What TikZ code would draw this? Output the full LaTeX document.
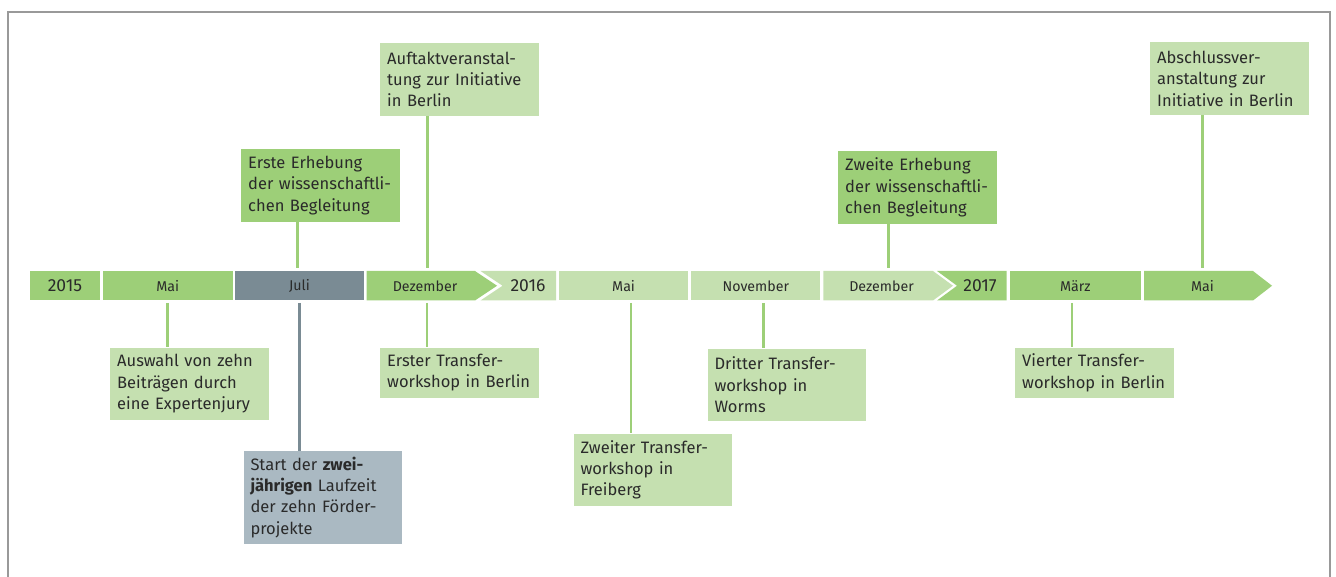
\documentclass[tikz,border=0pt]{standalone}
\usepackage{fontspec}
\setmainfont{Fira Sans}
\definecolor{dg}{HTML}{9DCF78}
\definecolor{lg}{HTML}{C5E0B0}
\definecolor{sl}{HTML}{7A8B94}
\definecolor{slb}{HTML}{AAB9C2}
\definecolor{tx}{HTML}{2A2A2A}
\definecolor{fr}{HTML}{999999}
\begin{document}
\begin{tikzpicture}[x=1pt,y=-1pt,
  frame/.style={draw=fr,line width=2pt},
  evbox/.style={anchor=north west,inner xsep=7pt,inner ysep=0pt,minimum width=158.5pt,text width=144.5pt,align=left,text=tx,font=\fontsize{16.5}{21.3}\selectfont},
  three/.style={minimum height=72.5pt},
  two/.style={minimum height=50.5pt},
  four/.style={minimum height=93pt},
  mon/.style={text=tx,font=\fontsize{14.2}{16}\selectfont,inner sep=0pt},
  yr/.style={text=tx,font=\fontsize{17.5}{19}\selectfont,inner sep=0pt},
  gcon/.style={draw=dg,line width=2.6pt},
  scon/.style={draw=sl,line width=2.6pt}]
\useasboundingbox (0,0) rectangle (1336,577);
\draw[frame] (8,580) -- (8,12) -- (1330,12) -- (1330,580);
% bar segments
\fill[dg] (30,271) rectangle (100,300.5);
\fill[dg] (103,271) rectangle (232.7,300.5);
\fill[sl] (235.3,271) rectangle (363.7,300.5);
\fill[dg] (366.7,271) -- (475,271) -- (497,285.75) -- (475,300.5) -- (366.7,300.5) -- cycle;
\fill[lg] (480.5,271) -- (556,271) -- (556,300.5) -- (480.5,300.5) -- (502.5,285.75) -- cycle;
\fill[lg] (559,271) rectangle (688.3,300.5);
\fill[lg] (691.3,271) rectangle (820.3,300.5);
\fill[lg] (823.3,271) -- (933,271) -- (953,285.75) -- (933,300.5) -- (823.3,300.5) -- cycle;
\fill[dg] (937,271) -- (1006.7,271) -- (1006.7,300.5) -- (937,300.5) -- (957,285.75) -- cycle;
\fill[dg] (1010,271) rectangle (1140.7,300.5);
\fill[dg] (1144,271) -- (1253,271) -- (1272,285.75) -- (1253,300.5) -- (1144,300.5) -- cycle;
% bar labels
\node[yr]  (y15) at (65,286) {2015};
\node[mon] (m1)  at (167.8,286) {Mai};
\node[mon] (m2)  at (299.5,286) {Juli};
\node[mon] (m3)  at (425,286) {Dezember};
\node[yr]  (y16) at (528,286) {2016};
\node[mon] (m4)  at (623.6,286) {Mai};
\node[mon] (m5)  at (755.8,286) {November};
\node[mon] (m6)  at (881.5,286) {Dezember};
\node[yr]  (y17) at (980,286) {2017};
\node[mon] (m7)  at (1075.3,286) {März};
\node[mon] (m8)  at (1202.5,286) {Mai};
% bar attachment coordinates
\coordinate (a1) at (297.7,268);
\coordinate (a2) at (427.7,268);
\coordinate (a3) at (888.7,268);
\coordinate (a4) at (1202.3,268);
\coordinate (b1) at (167.3,303);
\coordinate (b2) at (299.3,303);
\coordinate (b3) at (427,303);
\coordinate (b4) at (631,303);
\coordinate (b5) at (763.3,303);
\coordinate (b6) at (1072,303);
% boxes above
\node[evbox,three,fill=dg] (e1) at (241,149) {Erste Erhebung\\der wissenschaftli-\\chen Begleitung};
\node[evbox,three,fill=lg] (e2) at (380,43) {Auftaktveranstal-\\tung zur Initiative\\in Berlin};
\node[evbox,three,fill=dg] (e3) at (838,151) {Zweite Erhebung\\der wissenschaftli-\\chen Begleitung};
\node[evbox,three,fill=lg] (e4) at (1150,42.3) {Abschlussver-\\anstaltung zur\\Initiative in Berlin};
% boxes below
\node[evbox,three,fill=lg] (f1) at (110,347.3) {Auswahl von zehn\\Beiträgen durch\\eine Expertenjury};
\node[evbox,four,fill=slb] (f2) at (243.3,450.7) {Start der \textbf{zwei-}\\\textbf{jährigen} Laufzeit\\der zehn Förder-\\projekte};
\node[evbox,two,fill=lg] (f3) at (380,347.3) {Erster Transfer-\\workshop in Berlin};
\node[evbox,three,fill=lg] (f4) at (573.3,433.3) {Zweiter Transfer-\\workshop in\\Freiberg};
\node[evbox,three,fill=lg] (f5) at (707.3,348.3) {Dritter Transfer-\\workshop in\\Worms};
\node[evbox,two,fill=lg] (f6) at (1015,347.3) {Vierter Transfer-\\workshop in Berlin};
% connectors
\draw[gcon] (e1.south -| a1) -- (a1);
\draw[gcon] (e2.south -| a2) -- (a2);
\draw[gcon] (e3.south -| a3) -- (a3);
\draw[gcon] (e4.south -| a4) -- (a4);
\draw[gcon] (b1) -- (f1.north -| b1);
\draw[scon] (b2) -- (f2.north -| b2);
\draw[gcon] (b3) -- (f3.north -| b3);
\draw[gcon] (b4) -- (f4.north -| b4);
\draw[gcon] (b5) -- (f5.north -| b5);
\draw[gcon] (b6) -- (f6.north -| b6);
\end{tikzpicture}
\end{document}
